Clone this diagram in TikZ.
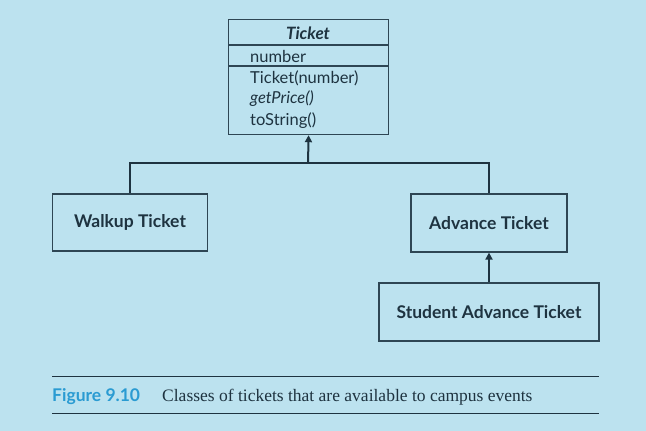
\documentclass[tikz,border=0pt]{standalone}
\usepackage{fontspec}
\setmainfont{Liberation Serif}
\newfontfamily\gill{Lato}
\usetikzlibrary{arrows.meta}
\definecolor{bgc}{HTML}{BCE2EF}
\definecolor{ink}{HTML}{1E3340}
\definecolor{boxc}{HTML}{2E4654}
\definecolor{capblue}{HTML}{2A9BD2}
\tikzset{
  cls/.style={draw=boxc, line width=1.2pt, fill=bgc, inner sep=0pt},
  lbl/.style={font=\gill\bfseries\fontsize{17.5}{20}\selectfont, text=ink},
  mem/.style={font=\gill\fontsize{16.5}{19}\selectfont, text=ink, anchor=west, inner sep=0pt},
  gen/.style={draw=ink, line width=2.4pt},
  arr/.style={draw=ink, line width=2pt, -{Triangle[length=7pt,width=7pt]}},
}
\begin{document}
\begin{tikzpicture}[x=1pt,y=-1pt]
\fill[bgc] (0,0) rectangle (646,431);
\useasboundingbox (0,0) rectangle (646,431);
% Ticket class
\node[cls, minimum width=160pt, minimum height=115pt, anchor=north west] (ticket) at (228,19) {};
\draw[boxc, line width=1.2pt] (228,45) -- (388,45);
\draw[boxc, line width=1.2pt] (228,66) -- (388,66);
\node[font=\gill\bfseries\itshape\fontsize{17}{20}\selectfont, text=ink] (tname) at (308,33) {Ticket};
\node[mem] (m1) at (250,56) {number};
\node[mem] (m2) at (250,78) {Ticket(number)};
\node[mem] (m3) at (250,99) {\itshape getPrice()};
\node[mem] (m4) at (250,121) {toString()};
% subclasses
\node[cls, lbl, minimum width=155pt, minimum height=57pt] (walk) at (130,222.5) {Walkup Ticket};
\node[cls, lbl, minimum width=156pt, minimum height=58pt] (adv) at (489,223) {Advance Ticket};
\node[cls, lbl, minimum width=220pt, minimum height=58pt] (stud) at (489,312) {Student Advance Ticket};
% connectors
\coordinate (junc) at (308,163);
\draw[gen] (walk.north) -- (walk.north |- junc) -- (adv.north |- junc) -- (adv.north);
\draw[arr] (junc) -- (ticket.south);
\draw[arr] (stud.north) -- (adv.south);
% caption
\draw[ink, line width=1pt] (52,376) coordinate (r1a) -- (599,376) coordinate (r1b);
\draw[ink, line width=1pt] (52,413) coordinate (r2a) -- (599,413) coordinate (r2b);
\node[anchor=base west, inner sep=0pt, font=\gill\bfseries\fontsize{17.5}{20}\selectfont, text=capblue] (fig) at (52,401) {Figure 9.10};
\node[anchor=base west, inner sep=0pt, font=\fontsize{17.5}{20}\selectfont, text=ink] (captxt) at (162,401) {Classes of tickets that are available to campus events};
\end{tikzpicture}
\end{document}
